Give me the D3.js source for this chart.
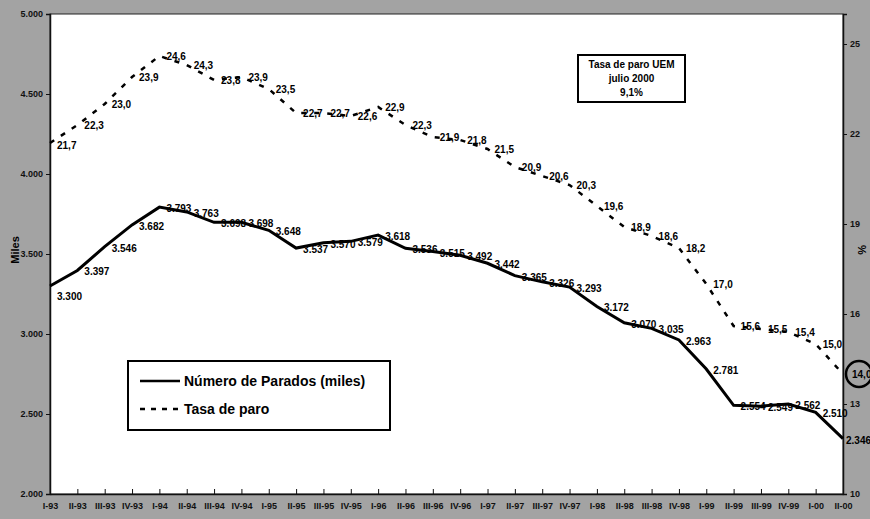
<!DOCTYPE html>
<html>
<head>
<meta charset="utf-8">
<script src="https://cdn.jsdelivr.net/npm/d3@7"></script>
<style>
  body { margin: 0; background: #a3a3a3; }
  svg { display: block; font-family: "Liberation Sans", Arial, sans-serif; }
</style>
</head>
<body>
<div id="chart"></div>
<script>
// Quarters, I-93 .. II-00
const quarters = ["I-93","II-93","III-93","IV-93","I-94","II-94","III-94","IV-94",
  "I-95","II-95","III-95","IV-95","I-96","II-96","III-96","IV-96",
  "I-97","II-97","III-97","IV-97","I-98","II-98","III-98","IV-98",
  "I-99","II-99","III-99","IV-99","I-00","II-00"];

// Número de Parados (miles)
const parados = [3300,3397,3546,3682,3793,3763,3698,3698,3648,3537,3570,3579,
  3618,3536,3515,3492,3442,3365,3326,3293,3172,3070,3035,2963,
  2781,2554,2549,2562,2510,2346];

// Tasa de paro (%)
const tasa = [21.7,22.3,23.0,23.9,24.6,24.3,23.8,23.9,23.5,22.7,22.7,22.6,
  22.9,22.3,21.9,21.8,21.5,20.9,20.6,20.3,19.6,18.9,18.6,18.2,
  17.0,15.6,15.5,15.4,15.0,14.0];

const leftTicks = [2000,2500,3000,3500,4000,4500,5000];
const rightTicks = [10,13,16,19,22,25];

const width = 870, height = 519;
const margin = {top: 14, right: 27, bottom: 25, left: 50};
const innerW = width - margin.left - margin.right;
const innerH = height - margin.top - margin.bottom;

const fmtMiles = d3.formatLocale({decimal: ",", thousands: ".", grouping: [3], currency: ["", ""]}).format(",d");
const fmtPct = d => d.toFixed(1).replace(".", ",");

const svg = d3.select("#chart").append("svg")
    .attr("width", width)
    .attr("height", height);

svg.append("rect")
    .attr("width", width).attr("height", height)
    .attr("fill", "#a3a3a3");

const g = svg.append("g")
    .attr("transform", `translate(${margin.left},${margin.top})`);

// plot area
g.append("rect")
    .attr("width", innerW).attr("height", innerH)
    .attr("fill", "#fff")
    .attr("stroke", "#222").attr("stroke-width", 1);

const x = d3.scalePoint().domain(quarters).range([0, innerW]);
const yL = d3.scaleLinear().domain([2000, 5000]).range([innerH, 0]);
const yR = d3.scaleLinear().domain([10, 26]).range([innerH, 0]);

// axes
const axL = g.append("g")
    .call(d3.axisLeft(yL).tickValues(leftTicks).tickSize(4).tickFormat(fmtMiles));
const axR = g.append("g")
    .attr("transform", `translate(${innerW},0)`)
    .call(d3.axisRight(yR).tickValues(rightTicks).tickSize(4).tickFormat(d3.format("d")));
const axB = g.append("g")
    .attr("transform", `translate(0,${innerH})`)
    .call(d3.axisBottom(x).tickSizeInner(-5).tickSizeOuter(0).tickPadding(9));

[axL, axR, axB].forEach(a => {
  a.select(".domain").attr("stroke", "#111").attr("stroke-width", 1.5);
  a.selectAll(".tick line").attr("stroke", "#111");
  a.selectAll("text").attr("fill", "#111").attr("font-weight", "bold").attr("font-size", 9);
});

// axis titles
svg.append("text")
    .attr("transform", "translate(19,250) rotate(-90)")
    .attr("text-anchor", "middle")
    .attr("font-weight", "bold").attr("font-size", 11)
    .text("Miles");
svg.append("text")
    .attr("transform", "translate(858,250) rotate(90)")
    .attr("text-anchor", "middle")
    .attr("font-weight", "bold").attr("font-size", 11)
    .text("%");

// series lines
const lineP = d3.line().x((d, i) => x(quarters[i])).y(d => yL(d));
const lineT = d3.line().x((d, i) => x(quarters[i])).y(d => yR(d));

g.append("path")
    .datum(parados)
    .attr("d", lineP)
    .attr("fill", "none")
    .attr("stroke", "#000").attr("stroke-width", 3);

g.append("path")
    .datum(tasa)
    .attr("d", lineT)
    .attr("fill", "none")
    .attr("stroke", "#000").attr("stroke-width", 2.5)
    .attr("stroke-dasharray", "5,8");

// data labels
g.selectAll(".lab-p")
    .data(parados)
    .enter().append("text")
    .attr("class", "lab-p")
    .attr("x", (d, i) => x(quarters[i]) + (i === parados.length - 1 ? 3 : 7))
    .attr("y", (d, i) => yL(d) + (i === 0 ? 14 : 5))
    .attr("font-size", 10).attr("font-weight", "bold")
    .text(d => fmtMiles(d));

g.selectAll(".lab-t")
    .data(tasa)
    .enter().append("text")
    .attr("class", "lab-t")
    .attr("x", (d, i) => x(quarters[i]) + (i === tasa.length - 1 ? 9 : 7))
    .attr("y", (d, i) => yR(d) + (i === 0 ? 6 : 4))
    .attr("font-size", 10).attr("font-weight", "bold")
    .text(d => fmtPct(d));

// circle around last rate
const last = tasa.length - 1;
g.append("circle")
    .attr("cx", x(quarters[last]) + 16)
    .attr("cy", yR(tasa[last]))
    .attr("r", 13)
    .attr("fill", "none")
    .attr("stroke", "#000").attr("stroke-width", 2.5);

// legend
const leg = svg.append("g").attr("transform", "translate(128,361)");
leg.append("rect")
    .attr("width", 262).attr("height", 69)
    .attr("fill", "#fff")
    .attr("stroke", "#000").attr("stroke-width", 2);
leg.append("line")
    .attr("x1", 12).attr("x2", 52).attr("y1", 20).attr("y2", 20)
    .attr("stroke", "#000").attr("stroke-width", 2.5);
leg.append("text")
    .attr("x", 56).attr("y", 25)
    .attr("font-size", 14).attr("font-weight", "bold")
    .text("Número de Parados (miles)");
leg.append("line")
    .attr("x1", 12).attr("x2", 52).attr("y1", 48).attr("y2", 48)
    .attr("stroke", "#000").attr("stroke-width", 2.5)
    .attr("stroke-dasharray", "5,6");
leg.append("text")
    .attr("x", 56).attr("y", 53)
    .attr("font-size", 14).attr("font-weight", "bold")
    .text("Tasa de paro");

// note box
const note = svg.append("g").attr("transform", "translate(578,55)");
note.append("rect")
    .attr("width", 107).attr("height", 47)
    .attr("fill", "#fff")
    .attr("stroke", "#000").attr("stroke-width", 2);
["Tasa de paro UEM", "julio 2000", "9,1%"].forEach((t, i) => {
  note.append("text")
      .attr("x", 53.5).attr("y", 13 + i * 14)
      .attr("text-anchor", "middle")
      .attr("font-size", 10).attr("font-weight", "bold")
      .text(t);
});
</script>
</body>
</html>
